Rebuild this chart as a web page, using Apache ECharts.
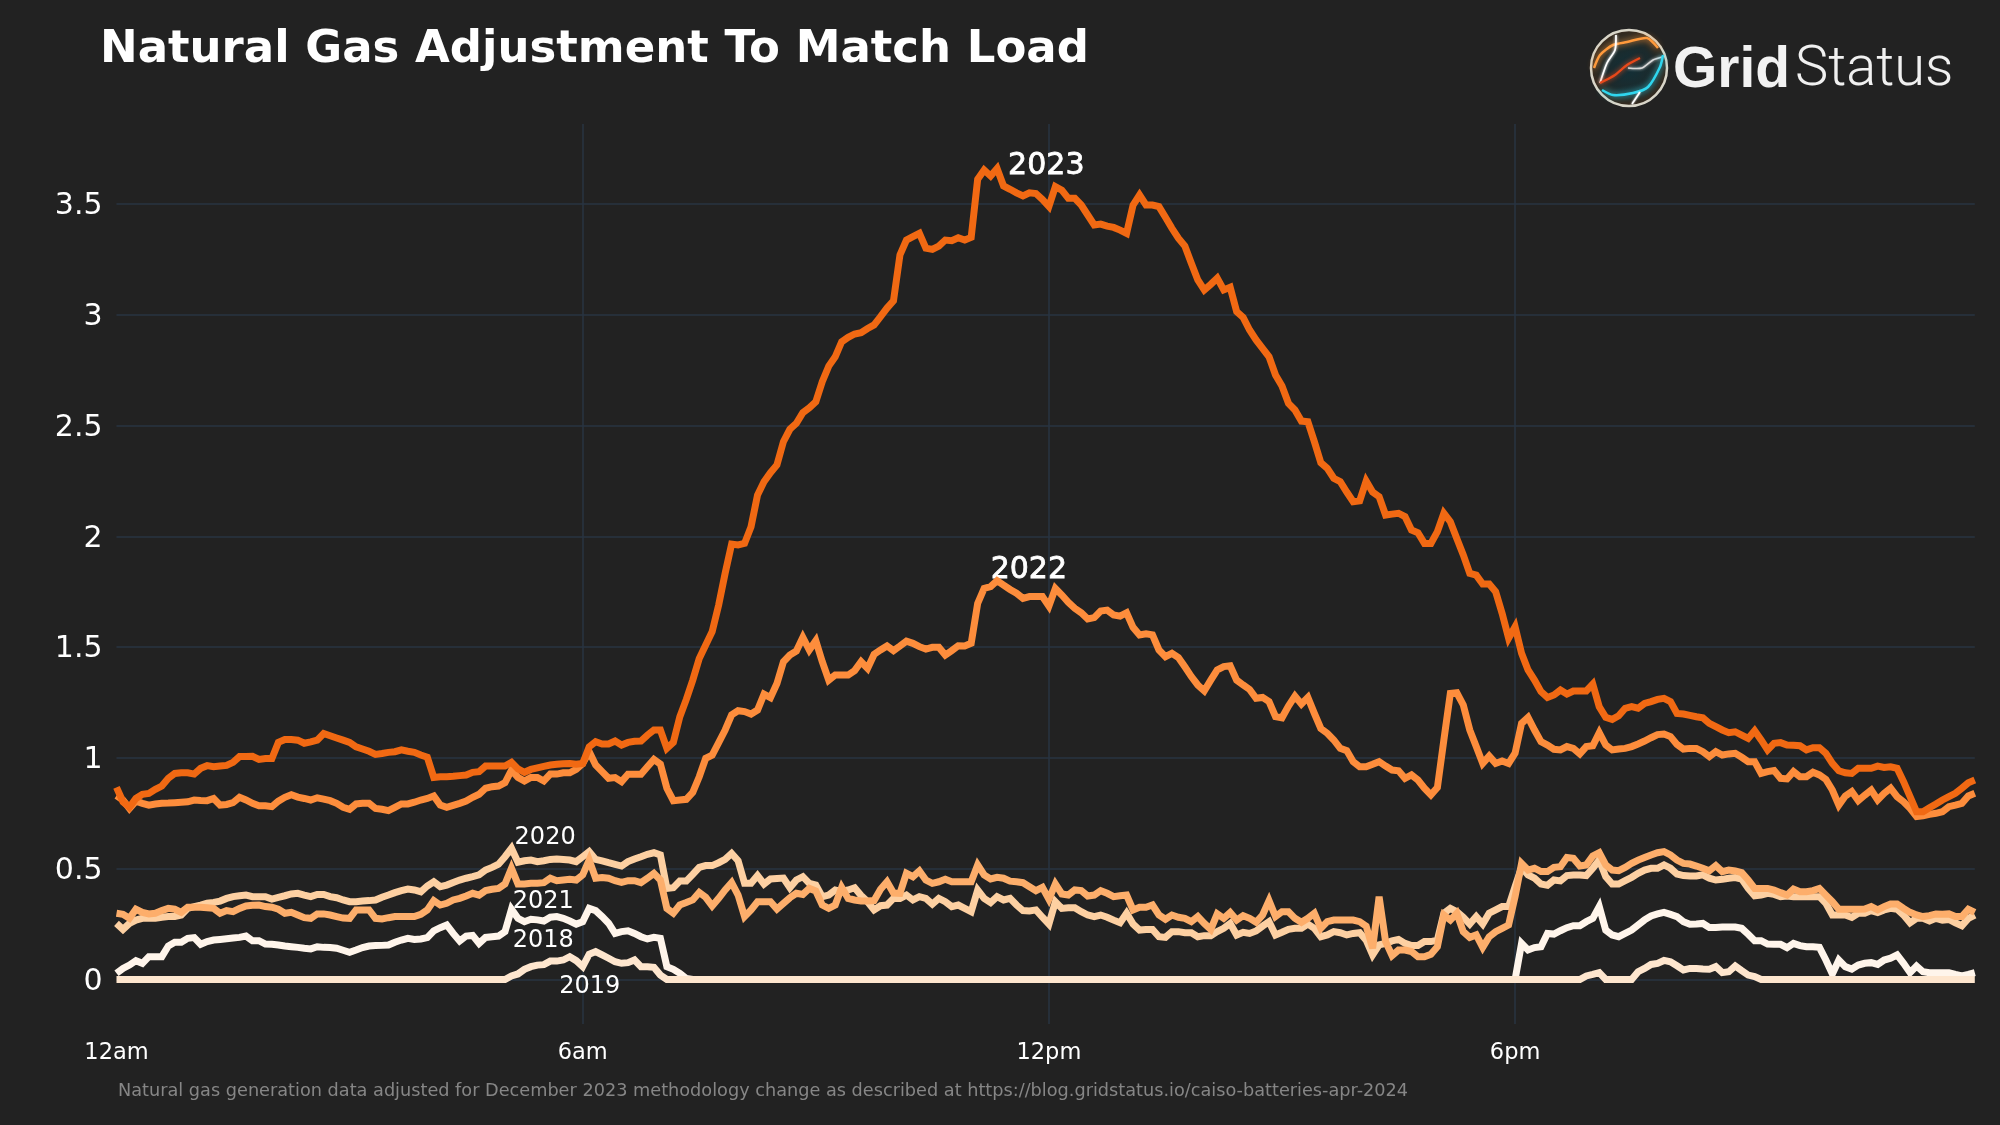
<!DOCTYPE html>
<html>
<head>
<meta charset="utf-8">
<style>html,body{margin:0;padding:0;background:#222222}#chart{width:2000px;height:1125px}</style>
<script src="https://cdn.jsdelivr.net/npm/echarts@6/dist/echarts.min.js"></script>
</head>
<body>
<div id="chart"></div>
<script>
// One row per hour, twelve 5-minute readings per row.
const y2018 = [
.028,.05,.065,.085,.073,.103,.103,.103,.151,.168,.168,.186,
.189,.159,.171,.178,.181,.184,.187,.19,.196,.175,.175,.16,
.159,.156,.151,.148,.145,.141,.138,.148,.145,.144,.141,.132,
.123,.133,.144,.151,.153,.154,.156,.168,.178,.186,.181,.183,
.189,.22,.234,.246,.208,.174,.196,.199,.163,.19,.193,.196,
.216,.317,.276,.261,.272,.269,.264,.281,.284,.276,.264,.25,
.261,.321,.311,.284,.254,.208,.216,.22,.208,.193,.183,.19,
.186,.058,.046,.028,.005,0,0,0,0,0,0,0,
0,0,0,0,0,0,0,0,0,0,0,0,
0,0,0,0,0,0,0,0,0,0,0,0,
0,0,0,0,0,0,0,0,0,0,0,0,
0,0,0,0,0,0,0,0,0,0,0,0,
0,0,0,0,0,0,0,0,0,0,0,0,
0,0,0,0,0,0,0,0,0,0,0,0,
0,0,0,0,0,0,0,0,0,0,0,0,
0,0,0,0,0,0,0,0,0,0,0,0,
0,0,0,0,0,0,0,0,0,0,0,0,
0,0,0,0,0,0,0,0,0,0,0,0,
0,.163,.133,.144,.148,.208,.205,.22,.234,.243,.243,.261,
.276,.329,.223,.201,.193,.208,.223,.246,.269,.287,.296,.303,
.294,.284,.261,.249,.25,.253,.235,.235,.237,.237,.237,.231,
.204,.175,.175,.16,.159,.159,.144,.163,.153,.148,.148,.145,
.088,.025,.088,.058,.047,.065,.073,.076,.068,.088,.096,.111,
.073,.031,.061,.035,.031,.031,.031,.031,.023,.016,.023,.031];
const y2019 = [
0,0,0,0,0,0,0,0,0,0,0,0,
0,0,0,0,0,0,0,0,0,0,0,0,
0,0,0,0,0,0,0,0,0,0,0,0,
0,0,0,0,0,0,0,0,0,0,0,0,
0,0,0,0,0,0,0,0,0,0,0,0,
0,.016,.025,.046,.058,.065,.067,.083,.083,.088,.103,.085,
.058,.114,.126,.111,.096,.08,.073,.076,.088,.058,.058,.055,
.02,0,0,0,0,0,0,0,0,0,0,0,
0,0,0,0,0,0,0,0,0,0,0,0,
0,0,0,0,0,0,0,0,0,0,0,0,
0,0,0,0,0,0,0,0,0,0,0,0,
0,0,0,0,0,0,0,0,0,0,0,0,
0,0,0,0,0,0,0,0,0,0,0,0,
0,0,0,0,0,0,0,0,0,0,0,0,
0,0,0,0,0,0,0,0,0,0,0,0,
0,0,0,0,0,0,0,0,0,0,0,0,
0,0,0,0,0,0,0,0,0,0,0,0,
0,0,0,0,0,0,0,0,0,0,0,0,
0,0,0,0,0,0,0,0,0,0,0,.016,
.023,.031,0,0,0,0,0,.035,.05,.068,.073,.086,
.08,.062,.043,.05,.05,.047,.046,.058,.031,.035,.061,.04,
.02,.013,0,0,0,0,0,0,0,0,0,0,
0,0,0,0,0,0,0,0,0,0,0,0,
0,0,0,0,0,0,0,0,0,0,0,0];
const y2020 = [
.253,.226,.253,.268,.276,.276,.276,.281,.284,.284,.291,.321,
.329,.336,.344,.348,.354,.366,.374,.378,.381,.374,.374,.374,
.363,.371,.378,.386,.389,.381,.374,.384,.384,.374,.369,.359,
.351,.351,.354,.356,.359,.371,.381,.392,.401,.408,.404,.396,
.422,.441,.419,.426,.438,.449,.457,.464,.472,.494,.506,.52,
.554,.592,.529,.536,.539,.532,.536,.542,.544,.542,.539,.532,
.554,.577,.542,.535,.527,.52,.512,.532,.544,.554,.565,.572,
.562,.411,.414,.444,.444,.474,.506,.514,.514,.527,.542,.569,
.536,.434,.434,.469,.431,.454,.456,.458,.414,.449,.464,.434,
.426,.374,.381,.404,.396,.404,.414,.379,.351,.314,.333,.336,
.366,.366,.381,.359,.374,.366,.34,.366,.351,.329,.336,.321,
.306,.404,.366,.347,.374,.359,.366,.336,.311,.309,.314,.281,
.25,.351,.321,.324,.324,.306,.291,.284,.291,.281,.268,.256,
.299,.25,.223,.226,.226,.193,.19,.216,.216,.211,.211,.193,
.198,.198,.216,.231,.253,.201,.213,.208,.219,.241,.261,.201,
.213,.226,.231,.231,.25,.231,.193,.201,.216,.211,.201,.208,
.211,.178,.111,.156,.163,.174,.181,.163,.153,.153,.171,.171,
.178,.299,.321,.306,.281,.25,.284,.25,.299,.314,.329,.329,
.419,.506,.472,.457,.431,.425,.449,.445,.469,.472,.472,.469,
.502,.539,.464,.431,.431,.446,.461,.479,.494,.502,.502,.517,
.502,.476,.469,.467,.467,.472,.457,.449,.452,.457,.46,.453,
.411,.378,.381,.389,.384,.374,.377,.374,.374,.374,.374,.374,
.344,.291,.291,.291,.28,.299,.299,.311,.302,.314,.321,.317,
.291,.256,.276,.276,.264,.276,.268,.271,.256,.243,.276,.291];
const y2021 = [
.299,.294,.276,.317,.303,.296,.299,.311,.321,.317,.303,.326,
.326,.326,.324,.321,.299,.311,.306,.321,.332,.335,.336,.329,
.326,.317,.299,.303,.291,.279,.276,.296,.296,.291,.284,.277,
.276,.314,.314,.314,.276,.273,.279,.284,.284,.284,.284,.294,
.314,.356,.336,.344,.359,.366,.377,.389,.381,.401,.407,.411,
.431,.502,.431,.431,.434,.434,.437,.457,.446,.449,.452,.449,
.472,.539,.457,.46,.457,.446,.438,.446,.446,.437,.457,.479,
.449,.321,.299,.336,.347,.359,.393,.371,.332,.366,.404,.437,
.381,.284,.314,.351,.351,.351,.318,.344,.369,.389,.384,.411,
.399,.336,.321,.336,.416,.366,.359,.354,.354,.356,.407,.441,
.39,.389,.479,.464,.49,.449,.434,.441,.452,.441,.441,.441,
.441,.517,.472,.454,.461,.457,.444,.441,.437,.419,.401,.416,
.362,.431,.386,.381,.404,.401,.377,.381,.401,.389,.374,.378,
.381,.314,.326,.326,.336,.291,.272,.291,.281,.276,.261,.284,
.253,.226,.296,.276,.302,.268,.288,.276,.258,.291,.356,.284,
.306,.306,.276,.258,.276,.299,.231,.261,.268,.268,.268,.268,
.261,.241,.141,.374,.171,.108,.133,.133,.126,.103,.103,.114,
.148,.291,.268,.299,.216,.19,.201,.145,.193,.216,.231,.246,
.374,.524,.494,.502,.487,.487,.506,.509,.551,.547,.512,.517,
.557,.572,.517,.494,.491,.506,.524,.539,.551,.562,.572,.577,
.562,.539,.524,.521,.512,.502,.491,.514,.487,.494,.49,.482,
.449,.411,.411,.411,.404,.392,.381,.408,.396,.396,.401,.411,
.381,.351,.317,.317,.317,.317,.318,.329,.314,.329,.341,.341,
.321,.303,.291,.284,.288,.296,.294,.296,.284,.284,.317,.303];
const y2022 = [
.83,.81,.772,.805,.795,.787,.792,.795,.796,.798,.80,.802,
.81,.808,.807,.817,.787,.79,.798,.822,.81,.795,.784,.784,
.78,.805,.822,.834,.823,.817,.81,.82,.814,.807,.795,.777,
.768,.792,.795,.795,.772,.768,.762,.777,.792,.792,.80,.81,
.817,.828,.787,.777,.786,.795,.805,.822,.836,.863,.87,.873,
.888,.945,.912,.896,.912,.912,.896,.927,.927,.933,.933,.948,
.975,1.028,.968,.938,.908,.911,.893,.926,.926,.926,.96,.993,
.972,.863,.807,.81,.813,.845,.915,.998,1.013,1.069,1.126,1.194,
1.213,1.209,1.198,1.216,1.288,1.272,1.336,1.434,1.464,1.482,1.544,1.487,
1.529,1.434,1.351,1.374,1.374,1.374,1.394,1.434,1.404,1.467,1.487,1.505,
1.484,1.505,1.527,1.517,1.502,1.491,1.499,1.499,1.464,1.484,1.506,1.505,
1.517,1.697,1.765,1.773,1.8,1.78,1.76,1.743,1.72,1.728,1.728,1.728,
1.685,1.765,1.735,1.702,1.675,1.655,1.627,1.633,1.663,1.667,1.645,1.64,
1.655,1.589,1.555,1.56,1.555,1.487,1.457,1.472,1.453,1.411,1.367,1.329,
1.303,1.351,1.397,1.412,1.416,1.351,1.329,1.309,1.269,1.273,1.254,1.186,
1.181,1.234,1.279,1.243,1.273,1.201,1.133,1.111,1.081,1.043,1.033,.983,
.96,.96,.971,.983,.963,.945,.942,.908,.923,.90,.863,.833,
.866,1.081,1.291,1.294,1.239,1.126,1.051,.975,1.008,.975,.986,.975,
1.021,1.156,1.183,1.126,1.073,1.058,1.039,1.036,1.051,1.043,1.018,1.051,
1.055,1.114,1.058,1.036,1.04,1.043,1.051,1.063,1.076,1.091,1.105,1.108,
1.096,1.061,1.04,1.043,1.043,1.028,1.006,1.028,1.013,1.018,1.021,1.003,
.983,.983,.93,.938,.943,.908,.905,.938,.915,.915,.935,.923,
.903,.855,.787,.828,.848,.807,.832,.855,.81,.84,.863,.825,
.802,.772,.735,.739,.745,.75,.757,.78,.787,.795,.828,.84];
const y2023 = [
.867,.802,.777,.817,.836,.84,.858,.873,.908,.93,.933,.933,
.927,.953,.965,.96,.963,.966,.98,1.006,1.006,1.007,.993,.997,
.997,1.07,1.083,1.083,1.08,1.066,1.072,1.08,1.11,1.10,1.09,1.08,
1.07,1.05,1.04,1.03,1.016,1.02,1.025,1.028,1.036,1.03,1.025,1.013,
1.003,.912,.915,.915,.917,.92,.923,.935,.938,.963,.963,.963,
.963,.98,.95,.935,.948,.955,.962,.968,.971,.974,.975,.971,
.975,1.05,1.073,1.063,1.063,1.076,1.058,1.07,1.075,1.076,1.103,1.126,
1.126,1.043,1.07,1.186,1.264,1.351,1.449,1.51,1.57,1.69,1.833,1.965,
1.961,1.968,2.043,2.186,2.246,2.287,2.322,2.427,2.483,2.51,2.558,2.58,
2.607,2.698,2.768,2.81,2.878,2.898,2.913,2.919,2.938,2.954,2.991,3.03,
3.063,3.27,3.337,3.352,3.367,3.30,3.295,3.31,3.337,3.334,3.347,3.337,
3.349,3.611,3.653,3.626,3.66,3.581,3.566,3.55,3.536,3.55,3.547,3.52,
3.488,3.578,3.562,3.525,3.525,3.495,3.45,3.405,3.409,3.40,3.394,3.382,
3.367,3.495,3.54,3.495,3.495,3.488,3.44,3.39,3.345,3.31,3.232,3.157,
3.112,3.137,3.165,3.112,3.124,3.014,2.988,2.931,2.886,2.848,2.81,2.728,
2.678,2.60,2.57,2.52,2.517,2.427,2.332,2.307,2.262,2.247,2.20,2.156,
2.16,2.25,2.20,2.179,2.096,2.10,2.104,2.089,2.028,2.016,1.968,1.968,
2.021,2.104,2.066,1.99,1.916,1.833,1.825,1.785,1.785,1.75,1.652,1.54,
1.592,1.472,1.397,1.351,1.299,1.273,1.284,1.306,1.288,1.302,1.302,1.302,
1.333,1.231,1.183,1.174,1.19,1.224,1.231,1.224,1.246,1.254,1.264,1.269,
1.254,1.201,1.198,1.192,1.186,1.181,1.156,1.141,1.126,1.114,1.118,1.103,
1.088,1.123,1.081,1.036,1.066,1.069,1.058,1.057,1.055,1.036,1.046,1.046,
1.021,.975,.942,.933,.93,.953,.953,.953,.963,.957,.96,.953,
.893,.825,.757,.757,.775,.792,.81,.825,.84,.863,.888,.90];

const years = ['2018','2019','2020','2021','2022','2023'];
const seriesValues = [y2018,y2019,y2020,y2021,y2022,y2023];
const seriesColors = ['#fff5eb','#fee6ce','#fdd0a2','#fdae6b','#fd8d3c','#f16913'];
// Year label anchors: [slot, value]
const labelAnchors = [[65.9,.173],[73.1,-.034],[66.2,.638],[65.9,.349],[140.9,1.848],[143.6,3.671]];
const labelSizes = [24,24,24,24,30,30];
const xTickLabels = {0:'12am',72:'6am',144:'12pm',216:'6pm'};
const titleText = 'Natural Gas Adjustment To Match Load';
const footnote = 'Natural gas generation data adjusted for December 2023 methodology change as described at https://blog.gridstatus.io/caiso-batteries-apr-2024';

const font = '"DejaVu Sans", Verdana, sans-serif';
const chart = echarts.init(document.getElementById('chart'), null, {renderer:'canvas', width:2000, height:1125});

const series = years.map((name,k)=>({
  name, type:'line', symbol:'none', animation:false, silent:true,
  data: seriesValues[k].map((v,i)=>[i,v]),
  lineStyle:{color:seriesColors[k], width:7, join:'miter', cap:'butt', miterLimit:4},
  z: 3+k,
  markPoint:{
    symbol:'circle', symbolSize:0, silent:true, animation:false,
    data:[{coord:labelAnchors[k], value:name}],
    label:{show:true, position:'inside', formatter:name, color:'#fff', fontFamily:font,
      fontSize:labelSizes[k], fontWeight:'normal',
      textBorderColor:'#fff', textBorderWidth:k>3?0.8:0}
  }
}));

function poly(points, color, width, blur){
  return {type:'polyline', z:102, silent:true,
    shape:{points, smooth:0.25},
    style:{stroke:color, lineWidth:width, fill:null, shadowColor:color, shadowBlur:blur}};
}

chart.setOption({
  animation:false,
  backgroundColor:'#222222',
  title:[
    {text:titleText, left:100, top:28, padding:0,
     textStyle:{color:'#fff', fontFamily:font, fontWeight:'bold', fontSize:45}},
    {text:footnote, left:118, top:1082, padding:0,
     textStyle:{color:'#868686', fontFamily:font, fontWeight:'normal', fontSize:17.7}}
  ],
  grid:{left:116.5, top:124, width:1858.3, height:900, containLabel:false},
  xAxis:{
    type:'value', min:0, max:287, interval:72,
    axisLine:{show:false}, axisTick:{show:false},
    splitLine:{show:true, showMinLine:false, showMaxLine:false, lineStyle:{color:'#283442', width:1.5}},
    axisLabel:{color:'#fff', fontFamily:font, fontSize:22.5, margin:18,
      showMinLabel:true, showMaxLabel:false,
      formatter:v=>xTickLabels[v]||''}
  },
  yAxis:{
    type:'value', min:-0.2008, max:3.8606, splitNumber:8,
    axisLine:{show:false}, axisTick:{show:false},
    splitLine:{show:true, showMinLine:false, showMaxLine:false, lineStyle:{color:'#283442', width:1.5}},
    axisLabel:{color:'#fff', fontFamily:font, fontSize:30, margin:14, verticalAlign:'top', lineHeight:5,
      showMinLabel:false, showMaxLabel:false,
      formatter:v=>String(Math.round(v*10)/10)}
  },
  series,
  graphic:[
    {type:'circle', z:100, silent:true, shape:{cx:1629,cy:68,r:38},
     style:{fill:new echarts.graphic.RadialGradient(0.5,0.5,0.5,[
        {offset:0,color:'#123038'},{offset:0.6,color:'#1c2a2c'},{offset:1,color:'#3a2a1c'}]),
        stroke:'#d8d5c8', lineWidth:2.5}},
    poly([[1594,68],[1600,55],[1613,45],[1627,42],[1647,38],[1658,48]],'#ff9a3c',2.5,6),
    poly([[1616,35],[1615,50],[1607,63],[1600,83]],'#ffffff',1.8,3),
    poly([[1600,83],[1615,75],[1627,65],[1640,58]],'#e8481a',2.2,5),
    poly([[1628,68],[1642,68],[1653,60],[1662,57]],'#d8d8d8',1.6,3),
    poly([[1602,90],[1613,95],[1633,93],[1648,87],[1660,67],[1663,55]],'#2fd6ee',2.5,6),
    poly([[1632,104],[1640,92]],'#ffffff',1.6,2),
    {type:'text', z:103, silent:true, style:{x:1673, y:71, text:'Grid', fill:'#f2f2f2',
       font:'bold 57px "Liberation Sans", Arial, sans-serif', textVerticalAlign:'middle'}},
    {type:'text', z:103, silent:true, style:{x:1795, y:71, text:'Status', fill:'#f0f0f0',
       font:'300 56px Roboto, "Liberation Sans", sans-serif', textVerticalAlign:'middle'}}
  ]
});
</script>
</body>
</html>
